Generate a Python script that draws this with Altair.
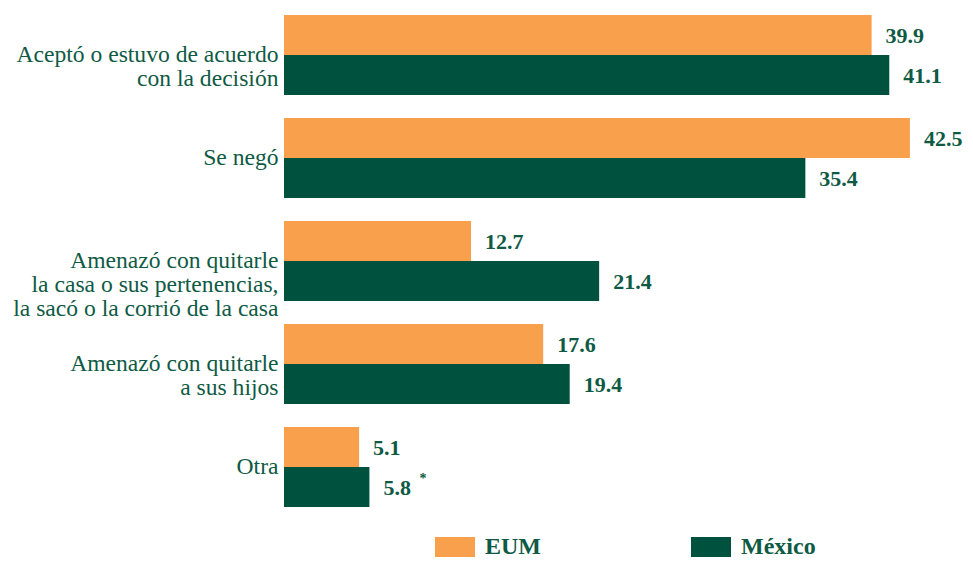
import altair as alt
import pandas as pd

categories = [
    "Aceptó o estuvo de acuerdo|con la decisión",
    "Se negó",
    "Amenazó con quitarle|la casa o sus pertenencias,|la sacó o la corrió de la casa",
    "Amenazó con quitarle|a sus hijos",
    "Otra",
]
series = ["EUM", "México"]
eum_values = [39.9, 42.5, 12.7, 17.6, 5.1]
mexico_values = [41.1, 35.4, 21.4, 19.4, 5.8]
mexico_notes = ["", "", "", "", "*"]

rows = []
for i, c in enumerate(categories):
    rows.append({"cat": c, "serie": "EUM", "valor": eum_values[i], "nota": ""})
    rows.append({"cat": c, "serie": "México", "valor": mexico_values[i], "nota": mexico_notes[i]})
df = pd.DataFrame(rows)

GREEN_TEXT = "#0f5a44"
FONT = "'Liberation Serif', 'Times New Roman', serif"

y_enc = alt.Y(
    "cat:N",
    sort=categories,
    scale=alt.Scale(paddingInner=0.223, paddingOuter=0),
    axis=alt.Axis(
        title=None,
        domain=False,
        ticks=False,
        labelExpr="split(datum.label, '|')",
        labelFont=FONT,
        labelFontSize=23.6,
        labelColor=GREEN_TEXT,
        labelPadding=6,
        labelLineHeight=24,
        labelLimit=400,
    ),
)
yoff = alt.YOffset("serie:N", sort=series, scale=alt.Scale(paddingInner=0, paddingOuter=0))
x_enc = alt.X("valor:Q", scale=alt.Scale(domain=[0, 44]), axis=None)

bars = alt.Chart(df).mark_bar().encode(
    x=x_enc,
    y=y_enc,
    yOffset=yoff,
    color=alt.Color(
        "serie:N",
        sort=series,
        scale=alt.Scale(domain=series, range=["#f9a04c", "#00523f"]),
        legend=alt.Legend(
            title=None,
            orient="none",
            direction="horizontal",
            legendX=151,
            legendY=512,
            symbolType="M-1,-0.5H1V0.5H-1Z",
            symbolSize=1600,
            symbolStrokeWidth=0,
            symbolOpacity=1,
            labelFont=FONT,
            labelFontSize=24,
            labelFontWeight="bold",
            labelColor=GREEN_TEXT,
            labelOffset=10,
            columnPadding=150,
            padding=0,
        ),
    ),
)

labels = alt.Chart(df).mark_text(
    align="left", baseline="middle", dx=14, dy=1,
    font=FONT, fontSize=22, fontWeight="bold", color=GREEN_TEXT,
).encode(
    x=x_enc,
    y=alt.Y("cat:N", sort=categories),
    yOffset=yoff,
    text=alt.Text("valor:Q", format=".1f"),
)

notes = alt.Chart(df).mark_text(
    align="left", baseline="middle", dx=50, dy=-8,
    font=FONT, fontSize=14, fontWeight="bold", color=GREEN_TEXT,
).encode(
    x=x_enc,
    y=alt.Y("cat:N", sort=categories),
    yOffset=yoff,
    text="nota:N",
)

chart = (
    alt.layer(bars, labels, notes)
    .properties(
        width=648,
        height=492,
        autosize=alt.AutoSizeParams(type="none"),
        padding={"left": 276, "top": 7, "right": 33, "bottom": 52},
        background="white",
    )
    .configure_view(stroke=None)
)

chart.save("out.html", embed_options={"renderer": "svg", "actions": False})
